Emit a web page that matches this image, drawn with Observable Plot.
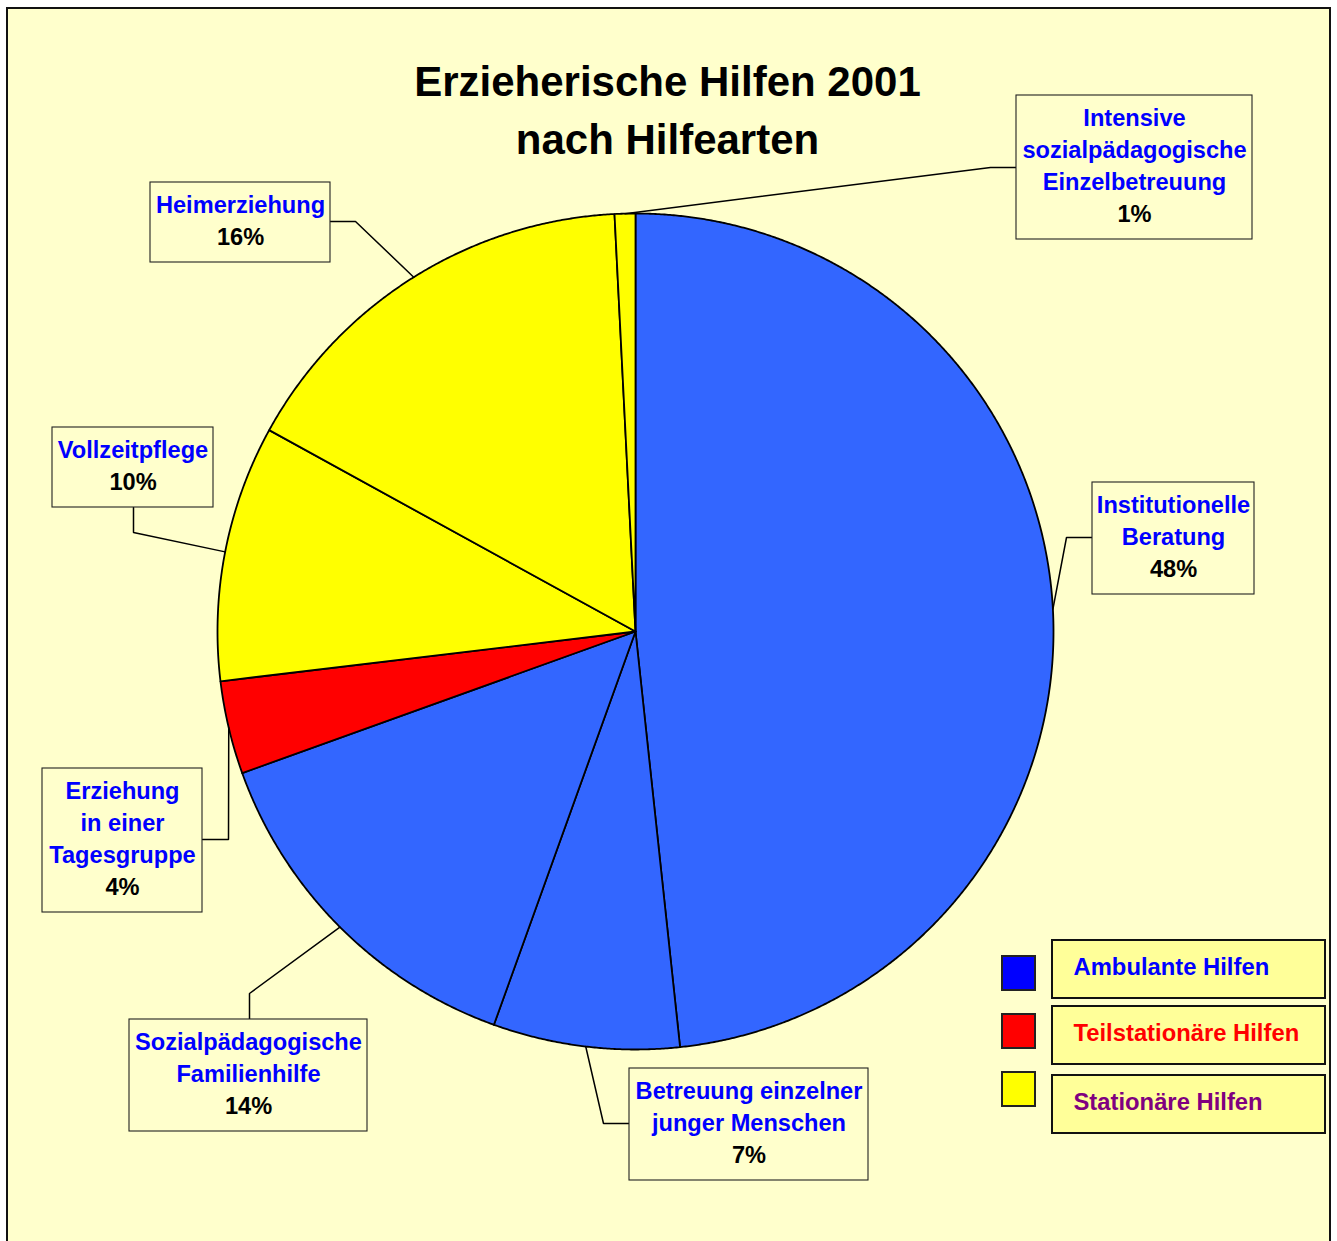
<!DOCTYPE html>
<html>
<head>
<meta charset="utf-8">
<script src="https://cdn.jsdelivr.net/npm/d3@7"></script>
<script src="https://cdn.jsdelivr.net/npm/@observablehq/plot@0.6"></script>
<style>
  html, body { margin: 0; padding: 0; background: #ffffff; overflow: hidden; }
  #frame { position: absolute; left: 6px; top: 7px; width: 1321px; height: 1300px; border: 2px solid #111; background: #FFFFCC; }
  #chart { position: absolute; left: 0; top: 0; }
</style>
</head>
<body>
<div id="frame"></div>
<div id="chart"></div>
<script>
// ---------- data ----------
const titleLines = ["Erzieherische Hilfen 2001", "nach Hilfearten"];
const categories = [
  "Institutionelle Beratung",
  "Betreuung einzelner junger Menschen",
  "Sozialpädagogische Familienhilfe",
  "Erziehung in einer Tagesgruppe",
  "Vollzeitpflege",
  "Heimerziehung",
  "Intensive sozialpädagogische Einzelbetreuung"
];
const labelLines = [
  ["Institutionelle", "Beratung"],
  ["Betreuung einzelner", "junger Menschen"],
  ["Sozialpädagogische", "Familienhilfe"],
  ["Erziehung", "in einer", "Tagesgruppe"],
  ["Vollzeitpflege"],
  ["Heimerziehung"],
  ["Intensive", "sozialpädagogische", "Einzelbetreuung"]
];
const shares = [48.3, 7.2, 14.0, 3.6, 9.9, 16.2, 0.8];
const groups = [
  "Ambulante Hilfen", "Ambulante Hilfen", "Ambulante Hilfen",
  "Teilstationäre Hilfen",
  "Stationäre Hilfen", "Stationäre Hilfen", "Stationäre Hilfen"
];
const groupNames = ["Ambulante Hilfen", "Teilstationäre Hilfen", "Stationäre Hilfen"];

// ---------- styles & layout ----------
const sliceColor = {"Ambulante Hilfen": "#3366FF", "Teilstationäre Hilfen": "#FF0000", "Stationäre Hilfen": "#FFFF00"};
const swatchColor = {"Ambulante Hilfen": "#0000FF", "Teilstationäre Hilfen": "#FF0000", "Stationäre Hilfen": "#FFFF00"};
const legendTextColor = {"Ambulante Hilfen": "#0000FF", "Teilstationäre Hilfen": "#FF0000", "Stationäre Hilfen": "#800080"};
const FONT = "Liberation Sans, Arial, Helvetica, sans-serif";
const W = 1337, H = 1241;
const CX = 635, CY = 631, R = 418;           // pie centre and radius (px)
const toX = px => (px - CX) / R;             // px -> pie units
const toY = py => (CY - py) / R;

// label boxes: box left/right/top, leader elbow and box attach point (px)
const labelLayout = [
  {x1: 1092, x2: 1254, top: 482,  elbow: [1066, 537], attach: [1092, 537]},
  {x1: 629,  x2: 868,  top: 1068, elbow: [603, 1123], attach: [629, 1123]},
  {x1: 129,  x2: 367,  top: 1019, elbow: [249, 993],  attach: [249, 1019]},
  {x1: 42,   x2: 202,  top: 768,  elbow: [228, 839],  attach: [202, 839]},
  {x1: 52,   x2: 213,  top: 427,  elbow: [133, 532],  attach: [133, 507]},
  {x1: 150,  x2: 330,  top: 182,  elbow: [355, 221],  attach: [330, 221]},
  {x1: 1016, x2: 1252, top: 95,   elbow: [990, 167],  attach: [1016, 167]}
];
const legendLayout = {swX1: 1002, swX2: 1035, boxX1: 1052, boxX2: 1325, textX: 1073,
  swTop: [956, 1014, 1072], boxTop: [940, 1006, 1075], textY: [966, 1032, 1101]};
const LINE = 32, PAD = 22;

// ---------- derived geometry ----------
const records = categories.map((c, i) => ({category: c, share: shares[i], group: groups[i], lines: labelLines[i]}));
const arcs = d3.pie().sort(null).value(d => d.share)(records);

const slicePts = [];
arcs.forEach(a => {
  const id = a.data.category, color = sliceColor[a.data.group];
  slicePts.push({id, x: 0, y: 0, color});
  const n = Math.max(2, Math.ceil((a.endAngle - a.startAngle) / (Math.PI / 720)));
  for (let i = 0; i <= n; i++) {
    const t = a.startAngle + (a.endAngle - a.startAngle) * i / n;
    slicePts.push({id, x: Math.sin(t), y: Math.cos(t), color});
  }
});

const leaderPts = [], boxes = [], textPts = [];
arcs.forEach((a, i) => {
  const L = labelLayout[i], id = a.data.category;
  const m = (a.startAngle + a.endAngle) / 2;
  leaderPts.push({id, x: Math.sin(m), y: Math.cos(m)});
  leaderPts.push({id, x: toX(L.elbow[0]), y: toY(L.elbow[1])});
  leaderPts.push({id, x: toX(L.attach[0]), y: toY(L.attach[1])});
  const lines = [...a.data.lines, Math.round(a.data.share) + "%"];
  boxes.push({x1: toX(L.x1), x2: toX(L.x2), y1: toY(L.top), y2: toY(L.top + LINE * lines.length + 16)});
  lines.forEach((t, j) => textPts.push({
    x: toX((L.x1 + L.x2) / 2),
    y: toY(L.top + PAD + LINE * j + 1),
    text: t,
    color: j === lines.length - 1 ? "#000000" : "#0000FF"
  }));
});

const legendSw = groupNames.map((g, i) => ({x1: toX(legendLayout.swX1), x2: toX(legendLayout.swX2),
  y1: toY(legendLayout.swTop[i]), y2: toY(legendLayout.swTop[i] + 34), color: swatchColor[g]}));
const legendBox = groupNames.map((g, i) => ({x1: toX(legendLayout.boxX1), x2: toX(legendLayout.boxX2),
  y1: toY(legendLayout.boxTop[i]), y2: toY(legendLayout.boxTop[i] + 58)}));
const legendTxt = groupNames.map((g, i) => ({x: toX(legendLayout.textX), y: toY(legendLayout.textY[i] + 1), text: g, color: legendTextColor[g]}));
const titlePts = titleLines.map((t, i) => ({x: toX(667), y: toY(82 + 58 * i), text: t}));

// ---------- plot ----------
const chart = Plot.plot({
  width: W, height: H, margin: 0,
  x: {domain: [toX(0), toX(W)], axis: null},
  y: {domain: [toY(H), toY(0)], axis: null},
  color: {type: "identity"},
  style: {background: "transparent", overflow: "visible"},
  marks: [
    Plot.line(slicePts, {x: "x", y: "y", z: "id", fill: "color", stroke: "#000", strokeWidth: 1.8,
      curve: "linear-closed", strokeLinejoin: "round"}),
    Plot.line(leaderPts, {x: "x", y: "y", z: "id", stroke: "#000", strokeWidth: 1.5, strokeLinejoin: "miter"}),
    Plot.rect(boxes, {x1: "x1", x2: "x2", y1: "y1", y2: "y2", fill: "#FFFFCC", stroke: "#222", strokeWidth: 1.1}),
    Plot.text(textPts, {x: "x", y: "y", text: "text", fill: "color", fontSize: 23.6, fontWeight: "bold",
      fontFamily: FONT, textAnchor: "middle", lineAnchor: "middle"}),
    Plot.text(titlePts, {x: "x", y: "y", text: "text", fill: "#000", fontSize: 42, fontWeight: "bold",
      fontFamily: FONT, textAnchor: "middle", lineAnchor: "middle"}),
    Plot.rect(legendSw, {x1: "x1", x2: "x2", y1: "y1", y2: "y2", fill: "color", stroke: "#222", strokeWidth: 2}),
    Plot.rect(legendBox, {x1: "x1", x2: "x2", y1: "y1", y2: "y2", fill: "#FFFF99", stroke: "#111", strokeWidth: 2}),
    Plot.text(legendTxt, {x: "x", y: "y", text: "text", fill: "color", fontSize: 23.8, fontWeight: "bold",
      fontFamily: FONT, textAnchor: "start", lineAnchor: "middle"})
  ]
});
document.getElementById("chart").appendChild(chart);
</script>
</body>
</html>
